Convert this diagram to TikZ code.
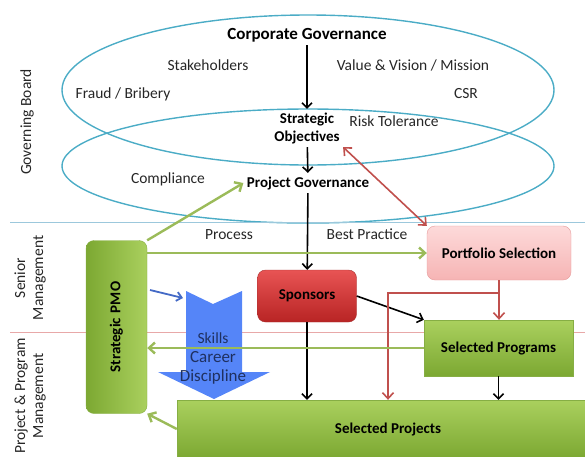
\documentclass[tikz,border=0pt]{standalone}
\usepackage{fontspec}
\setmainfont{Carlito}
\usetikzlibrary{arrows.meta}

\definecolor{ellblue}{HTML}{4BACC6}
\definecolor{sepblue}{HTML}{9CC8DC}
\definecolor{sepred}{HTML}{E8A8A8}
\definecolor{pmogreen}{HTML}{9BBB59}
\definecolor{boxgreenA}{HTML}{AAD05E}
\definecolor{boxgreenB}{HTML}{7CA832}
\definecolor{boxgreenD}{HTML}{86AE44}
\definecolor{redA}{HTML}{E85454}
\definecolor{redB}{HTML}{B82424}
\definecolor{redD}{HTML}{A83232}
\definecolor{pinkA}{HTML}{FDDADA}
\definecolor{pinkB}{HTML}{F6B4B4}
\definecolor{pinkD}{HTML}{E59A9A}
\definecolor{linkred}{HTML}{C0504D}
\definecolor{chevblue}{HTML}{5585F8}
\definecolor{chevtext}{HTML}{1F3060}
\definecolor{txtgrey}{HTML}{262626}

\tikzset{
  label/.style={font=\fontsize{15.5}{18}\selectfont, text=txtgrey},
  bold/.style={font=\fontsize{15}{18}\selectfont\bfseries},
  greenbox/.style={draw=boxgreenD, top color=boxgreenA, bottom color=boxgreenB,
    bold, minimum height=56pt},
  blk/.style={-{Straight Barb[length=5pt,width=10pt]}, line width=1.6pt},
  grn/.style={-{Straight Barb[length=6pt,width=11pt]}, line width=2.4pt, draw=pmogreen},
  rd/.style={-{Straight Barb[length=6pt,width=11pt]}, line width=1.6pt, draw=linkred},
}

\begin{document}
\begin{tikzpicture}[x=1pt, y=-1pt]
  \useasboundingbox (0,0) rectangle (585,456);

  % board ellipses
  \draw[ellblue, line width=1.4pt] (308,90) ellipse [x radius=246pt, y radius=75pt];
  \draw[ellblue, line width=1.4pt] (308,166) ellipse [x radius=246pt, y radius=57pt];

  % separators
  \draw[sepblue, line width=0.8pt] (10,222) -- (585,222);
  \draw[sepred, line width=0.8pt] (10,332) -- (585,332);

  % layer names
  \node[label, rotate=90] (board) at (27,122) {Governing Board};
  \node[label, rotate=90, align=center] (senior) at (30,278) {Senior\\Management};
  \node[label, rotate=90, align=center] (ppm) at (30,396) {Project \& Program\\Management};

  % governance texts
  \node[font=\fontsize{17}{20}\selectfont\bfseries] (corp) at (307,35) {Corporate Governance};
  \node[label] (stake) at (208,65) {Stakeholders};
  \node[label] (value) at (413,65) {Value \& Vision / Mission};
  \node[label] (fraud) at (123,94) {Fraud / Bribery};
  \node[label] (csr) at (466,94) {CSR};
  \node[bold, align=center] (strat) at (307,128) {Strategic\\Objectives};
  \node[label] (risk) at (394,121) {Risk Tolerance};
  \node[label] (compl) at (168,179) {Compliance};
  \node[bold] (projgov) at (308,183) {Project Governance};
  \node[label] (process) at (229,235) {Process};
  \node[label] (best) at (367,234) {Best Practice};

  % boxes
  \node[draw=pinkD, top color=pinkA, bottom color=pinkB, rounded corners=8pt,
        bold, minimum width=144pt, minimum height=54pt] (portfolio) at (499,253) {Portfolio Selection};
  \node[draw=redD, top color=redA, bottom color=redB, rounded corners=8pt,
        bold, minimum width=99pt, minimum height=52pt] (sponsors) at (307,296) {Sponsors};
  \node[draw=boxgreenD, left color=boxgreenB, right color=boxgreenA, bold,
        rounded corners=8pt, minimum width=173pt, minimum height=61pt,
        rotate=90] (pmo) at (116.5,327) {Strategic\,\,PMO};
  \node[greenbox, minimum width=149pt] (programs) at (498.5,348) {Selected Programs};
  \node[greenbox, minimum width=422pt, minimum height=58pt] (projects) at (388,429) {Selected Projects};

  % chevron
  \fill[chevblue] (186,291) -- (213,304) -- (242,291) -- (242,372) -- (270,372)
    -- (214,399) -- (158,372) -- (186,372) -- cycle;
  \node[align=center, text=chevtext, font=\fontsize{17}{19}\selectfont] (skills) at (213,358) {{\fontsize{15.5}{19}\selectfont Skills}\\Career\\Discipline};

  % flow
  \draw[blk] (corp) -- (strat);
  \draw[blk] (strat) -- (projgov);
  \draw[blk] (projgov) -- (sponsors);
  \draw[blk] (sponsors.south) -- (sponsors.south |- projects.north);
  \draw[blk] (sponsors.east) -- (programs.north west);
  \draw[blk] (programs.south) -- (programs.south |- projects.north);

  \draw[rd, {Straight Barb[length=6pt,width=11pt]}-{Straight Barb[length=6pt,width=11pt]}]
    (strat.south east) -- (portfolio.north west);
  \coordinate (split) at (498,293);
  \coordinate (redturn) at (388,293);
  \draw[rd] (portfolio.south) -- (portfolio.south |- programs.north);
  \draw[rd] (split) -- (redturn) -- (redturn |- projects.north);

  \draw[grn] (pmo.south east) -- (projgov.west);
  \draw[grn] (pmo.south |- portfolio.west) -- (portfolio.west);
  \draw[grn] (programs.west) -- (programs.west -| pmo.south);
  \draw[grn] (projects.west) -- (pmo.south west);

  \coordinate (bluestart) at (150,290);
  \coordinate (blueend) at (183,298);
  \draw[-{Straight Barb[length=5pt,width=9pt]}, line width=1.8pt, draw=chevblue!80!black] (bluestart) -- (blueend);
\end{tikzpicture}
\end{document}
